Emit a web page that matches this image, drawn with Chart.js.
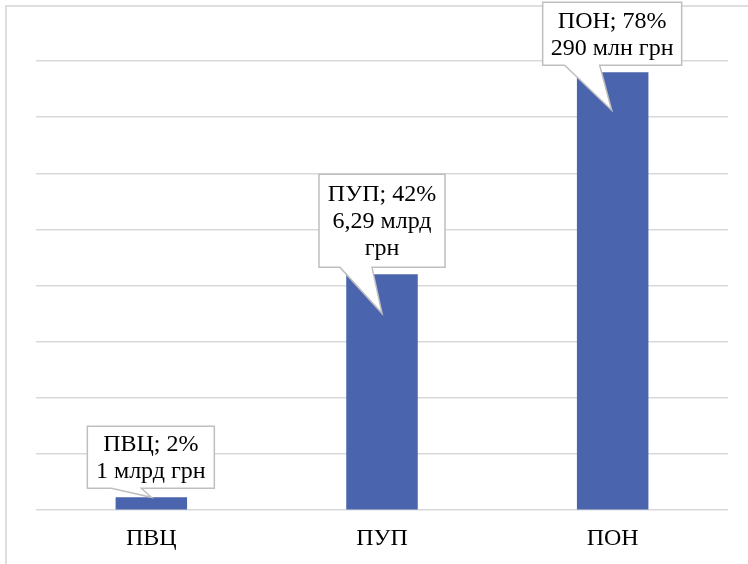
<!DOCTYPE html>
<html>
<head>
<meta charset="utf-8">
<script src="https://cdn.jsdelivr.net/npm/chart.js@4/dist/chart.umd.min.js"></script>
<style>
  body { margin: 0; background: #fff; }
  #wrap { position: relative; width: 748px; height: 564px; }
</style>
</head>
<body>
<div id="wrap"><canvas id="chart" width="748" height="564"></canvas></div>
<script>
const categories = ['ПВЦ', 'ПУП', 'ПОН'];
const shares = [2.3, 42, 78];
const calloutLines = [
    ['ПВЦ; 2%', '1 млрд грн'],
    ['ПУП; 42%', '6,29 млрд', 'грн'],
    ['ПОН; 78%', '290 млн грн']
];

// box and pointer geometry relative to the top centre of each bar
const calloutShapes = [
    { left: -64, right: 63, top: -71, bottom: -9, baseA: -40, baseB: -10, tipX: 0, tipY: 0 },
    { left: -63, right: 63, top: -100, bottom: -7, baseA: -42, baseB: -10, tipX: 0, tipY: 39 },
    { left: -70, right: 69, top: -70, bottom: -7, baseA: -48, baseB: -13, tipX: -1, tipY: 38 }
];

const FONT = '"Liberation Serif", "Times New Roman", serif';

const calloutPlugin = {
    id: 'callouts',
    beforeDraw(chart) {
        const ctx = chart.ctx;
        ctx.save();
        ctx.strokeStyle = '#dedede';
        ctx.lineWidth = 2;
        ctx.strokeRect(6, 6, chart.width + 10, chart.height + 10);
        ctx.restore();
    },
    afterDatasetsDraw(chart) {
        const ctx = chart.ctx;
        const meta = chart.getDatasetMeta(0);
        meta.data.forEach(function(bar, i) {
            const s = calloutShapes[i];
            const cx = bar.x, cy = bar.y;
            const l = cx + s.left, r = cx + s.right, t = cy + s.top, b = cy + s.bottom;
            ctx.save();
            ctx.beginPath();
            ctx.moveTo(l, t);
            ctx.lineTo(r, t);
            ctx.lineTo(r, b);
            ctx.lineTo(cx + s.baseB, b);
            ctx.lineTo(cx + s.tipX, cy + s.tipY);
            ctx.lineTo(cx + s.baseA, b);
            ctx.lineTo(l, b);
            ctx.closePath();
            ctx.fillStyle = '#ffffff';
            ctx.fill();
            ctx.strokeStyle = '#bfbfbf';
            ctx.lineWidth = 1.5;
            ctx.stroke();

            const lines = calloutLines[i];
            const lh = 27;
            const midY = (t + b) / 2;
            ctx.fillStyle = '#000000';
            ctx.font = '24px ' + FONT;
            ctx.textAlign = 'center';
            ctx.textBaseline = 'middle';
            lines.forEach(function(txt, k) {
                ctx.fillText(txt, (l + r) / 2, midY + (k - (lines.length - 1) / 2) * lh + 1);
            });
            ctx.restore();
        });
    }
};

new Chart(document.getElementById('chart').getContext('2d'), {
    type: 'bar',
    data: {
        labels: categories,
        datasets: [{
            data: shares,
            backgroundColor: '#4a65ad',
            barPercentage: 0.31,
            categoryPercentage: 1
        }]
    },
    options: {
        responsive: false,
        animation: false,
        layout: { padding: { top: 61, left: 36, right: 20, bottom: -3 } },
        plugins: { legend: { display: false }, tooltip: { enabled: false } },
        scales: {
            x: {
                grid: { display: false, drawTicks: false },
                border: { display: false },
                ticks: { color: '#000', font: { family: FONT, size: 24 }, padding: 14 }
            },
            y: {
                min: 0,
                max: 80,
                ticks: { display: false, stepSize: 10 },
                border: { display: false },
                grid: { color: '#d9d9d9', lineWidth: 1.5, drawTicks: false }
            }
        }
    },
    plugins: [calloutPlugin]
});
</script>
</body>
</html>
